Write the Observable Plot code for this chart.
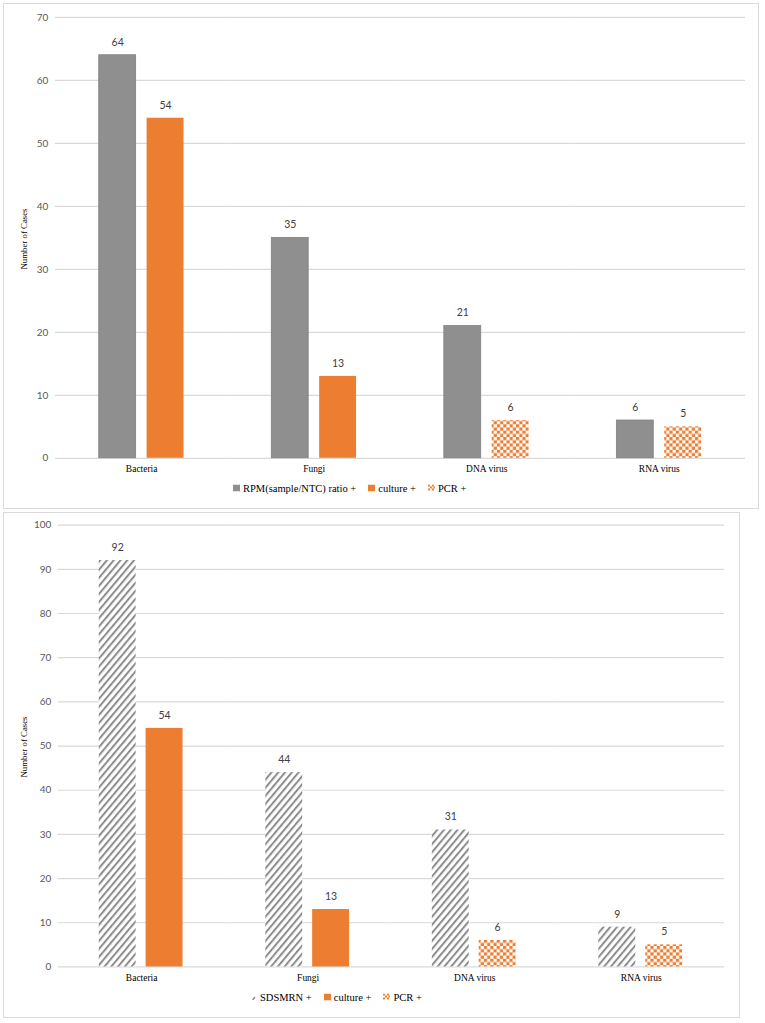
<!DOCTYPE html>
<html><head><meta charset="utf-8">
<script src="https://cdn.jsdelivr.net/npm/d3@7"></script>
<script src="https://cdn.jsdelivr.net/npm/@observablehq/plot@0.6"></script>
<style>
body{margin:0;background:#fff;width:765px;height:1023px;position:relative;overflow:hidden}
.panel{position:absolute;border:1.5px solid #d9d9d9;box-sizing:border-box;background:#fff}
.panel > svg.chart{position:absolute;left:-1.5px;top:-1.5px}
.ytitle{position:absolute;font-family:"Liberation Serif","Times New Roman",serif;font-size:8.8px;color:#000;transform:translate(-50%,-50%) rotate(-90deg);white-space:nowrap}
.legend{position:absolute;display:flex;align-items:center;font-family:"Liberation Serif","Times New Roman",serif;font-size:10.5px;color:#000;white-space:nowrap;transform:translateY(-50%)}
.legend .item{display:flex;align-items:center;margin-right:12px}
.legend .item svg{margin-right:3px}
</style></head><body>
<div id="topPanel" class="panel" style="left:3px;top:3px;width:756px;height:506px"></div>
<div id="bottomPanel" class="panel" style="left:3px;top:512px;width:737px;height:506px"></div>
<script>
const categories = ["Bacteria", "Fungi", "DNA virus", "RNA virus"];
const rpmRatio = [64, 35, 21, 6];
const sdsmrn = [92, 44, 31, 9];
const confirmed = [54, 13, 6, 5];
const confirmedMethod = ["culture +", "culture +", "PCR +", "PCR +"];
const topTicks = [0, 10, 20, 30, 40, 50, 60, 70];
const bottomTicks = [0, 10, 20, 30, 40, 50, 60, 70, 80, 90, 100];
const topLegend = ["RPM(sample/NTC) ratio +", "culture +", "PCR +"];
const bottomLegend = ["SDSMRN +", "culture +", "PCR +"];

const GRAY = "#8f8f8f", ORANGE = "#ed7d31", HATCH = "#8c8c8c";

function defs(prefix) {
  return `<defs>
  <pattern id="${prefix}-checker" width="6.4" height="6.4" patternUnits="userSpaceOnUse">
    <rect width="6.4" height="6.4" fill="#fff"/>
    <rect width="3.2" height="3.2" fill="${ORANGE}"/>
    <rect x="3.2" y="3.2" width="3.2" height="3.2" fill="${ORANGE}"/>
  </pattern>
  <pattern id="${prefix}-hatch" width="5.2" height="5.2" patternUnits="userSpaceOnUse" patternTransform="rotate(40)">
    <rect width="5.2" height="5.2" fill="#fff"/>
    <rect width="2" height="5.2" fill="${HATCH}"/>
  </pattern>
  </defs>`;
}

function chart(opts) {
  const {prefix, firstValues, firstKind, width, height, marginLeft, marginRight, marginTop, marginBottom, ticks, paddingInner, paddingOuter} = opts;
  const rows = [];
  categories.forEach((c, i) => {
    rows.push({
      category: c, series: "a", value: firstValues[i],
      fill: firstKind === "hatch" ? `url(#${prefix}-hatch)` : GRAY,
      stroke: firstKind === "hatch" ? "none" : "#808080"
    });
    rows.push({
      category: c, series: "b", value: confirmed[i],
      fill: confirmedMethod[i] === "PCR +" ? `url(#${prefix}-checker)` : ORANGE,
      stroke: "none"
    });
  });
  const svg = Plot.plot({
    width, height, marginLeft, marginRight, marginTop, marginBottom,
    fx: {domain: categories, padding: 0, label: null},
    x: {domain: ["a", "b"], paddingInner, paddingOuter, axis: null},
    y: {domain: [0, d3.max(ticks)], axis: null},
    color: {type: "identity"},
    style: {background: "transparent", overflow: "visible"},
    marks: [
      Plot.gridY(ticks, {stroke: "#d9d9d9", strokeOpacity: 1, strokeWidth: 1.2}),
      Plot.axisY(ticks, {tickSize: 0, tickPadding: 7, label: null, fontFamily: "Lato", fontSize: 10, fill: "#595959"}),
      Plot.axisFx({anchor: "bottom", tickSize: 0, tickPadding: 7, label: null, fontFamily: "Liberation Serif", fontSize: 9.5, fill: "#000"}),
      Plot.barY(rows, {fx: "category", x: "series", y: "value", fill: "fill", stroke: "stroke", strokeWidth: 0.8}),
      Plot.text(rows, {fx: "category", x: "series", y: "value", text: d => String(d.value), dy: -13, fontFamily: "Lato", fontSize: 10.5, fill: "#404040"})
    ]
  });
  svg.classList.add("chart");
  svg.insertAdjacentHTML("afterbegin", defs(prefix));
  return svg;
}

function icon(kind) {
  if (kind === "gray") return `<svg width="7" height="7"><rect width="7" height="7" fill="${GRAY}"/></svg>`;
  if (kind === "orange") return `<svg width="7" height="7"><rect width="7" height="7" fill="${ORANGE}"/></svg>`;
  if (kind === "checker") return `<svg width="7" height="7"><rect width="7" height="7" fill="#fff"/>
    <rect x="0" y="0" width="2" height="2" fill="${ORANGE}"/><rect x="4" y="0" width="2" height="2" fill="${ORANGE}"/>
    <rect x="2" y="2" width="2" height="2" fill="${ORANGE}"/><rect x="5.5" y="2" width="1.5" height="2" fill="${ORANGE}"/>
    <rect x="0" y="4" width="2" height="2" fill="${ORANGE}"/><rect x="4" y="4" width="2" height="2" fill="${ORANGE}"/></svg>`;
  return `<svg width="5" height="7"><path d="M0.5,6.5 L3,3.5" stroke="${HATCH}" stroke-width="1.4"/></svg>`;
}

function legend(labels, kinds, left, topPx) {
  const div = document.createElement("div");
  div.className = "legend";
  div.style.left = left + "px";
  div.style.top = topPx + "px";
  div.innerHTML = labels.map((l, i) => `<div class="item">${icon(kinds[i])}<span>${l}</span></div>`).join("");
  return div;
}

function ytitle(x, y) {
  const d = document.createElement("div");
  d.className = "ytitle";
  d.style.left = x + "px";
  d.style.top = y + "px";
  d.textContent = "Number of Cases";
  return d;
}

const topPanel = document.getElementById("topPanel");
topPanel.appendChild(chart({
  prefix: "t", firstValues: rpmRatio, firstKind: "gray",
  width: 756, height: 480, marginLeft: 50, marginRight: 11, marginTop: 14, marginBottom: 24,
  ticks: topTicks, paddingInner: 0.2245, paddingOuter: 0.885
}));
topPanel.appendChild(ytitle(20, 235));
topPanel.appendChild(legend(topLegend, ["gray", "orange", "checker"], 229, 484));

const bottomPanel = document.getElementById("bottomPanel");
bottomPanel.appendChild(chart({
  prefix: "b", firstValues: sdsmrn, firstKind: "hatch",
  width: 737, height: 480, marginLeft: 54, marginRight: 14, marginTop: 12.7, marginBottom: 24.3,
  ticks: bottomTicks, paddingInner: 0.208, paddingOuter: 0.846
}));
bottomPanel.appendChild(ytitle(20, 234));
bottomPanel.appendChild(legend(bottomLegend, ["hatch", "orange", "checker"], 248, 484));
</script>
</body></html>
